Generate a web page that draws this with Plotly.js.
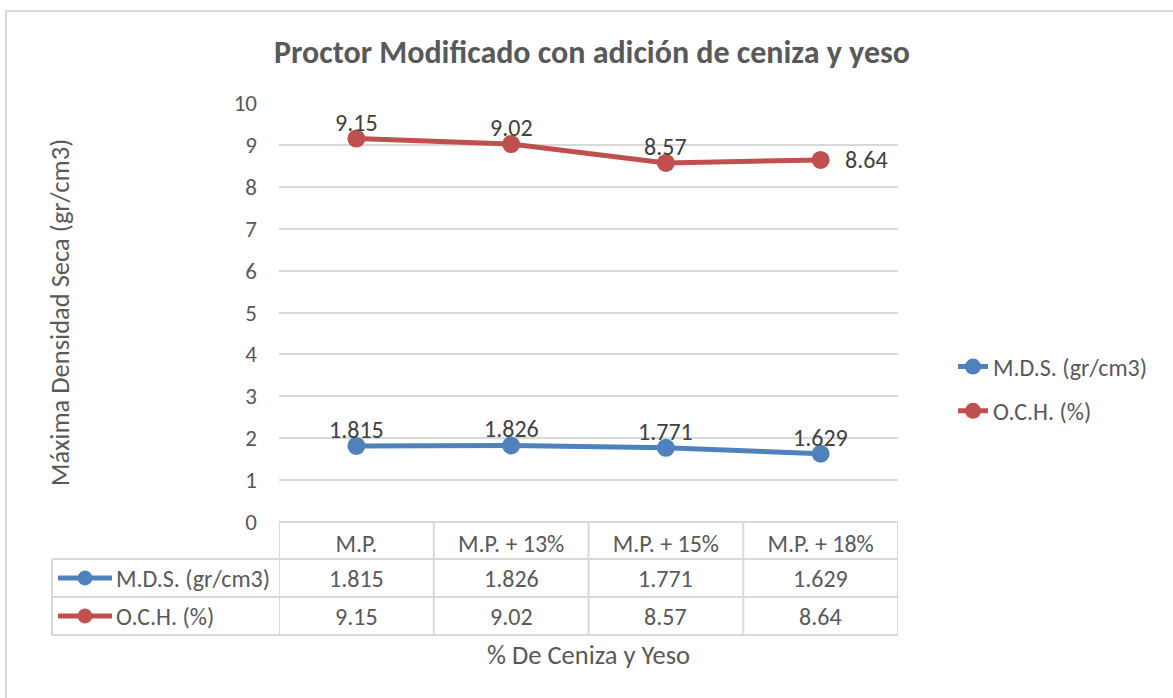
<!DOCTYPE html>
<html>
<head>
<meta charset="utf-8">
<script src="https://cdn.plot.ly/plotly-3.0.1.min.js"></script>
<style>html,body{margin:0;padding:0;background:#fff;}#chart{width:1173px;height:698px;}</style>
</head>
<body>
<div id="chart"></div>
<script>
const categories = ["M.P.", "M.P. + 13%", "M.P. + 15%", "M.P. + 18%"];
const seriesNames = ["M.D.S. (gr/cm3)", "O.C.H. (%)"];
const mdsValues = [1.815, 1.826, 1.771, 1.629];
const ochValues = [9.15, 9.02, 8.57, 8.64];
const ochLabelRight = [false, false, false, true];
const colors = ["#4f81bd", "#c0504d"];

const W = 1173, H = 698;
const L = 279, R = 898, T = 103, B = 522;
const FONT = "Carlito, Lato, 'Liberation Sans', sans-serif";
const TXT = "#595959";
const GRID = "#d9d9d9";
const FS = 24;

// pixel helpers (for table decoration only)
const py = p => (B - p) / (B - T);
const px = p => (p - L) / (R - L);

const traces = [
  {x: categories, y: mdsValues, name: seriesNames[0], type: "scatter", mode: "lines+markers",
   line: {color: colors[0], width: 5}, marker: {color: colors[0], size: 18}, legendgroup: "a", cliponaxis: false},
  {x: categories, y: ochValues, name: seriesNames[1], type: "scatter", mode: "lines+markers",
   line: {color: colors[1], width: 5}, marker: {color: colors[1], size: 18}, legendgroup: "b", cliponaxis: false}
];

const annotations = [];
// data labels
mdsValues.forEach((v, i) => annotations.push({xref: "x", yref: "y", x: categories[i], y: v,
  text: String(v), showarrow: false, xanchor: "center", yanchor: "bottom", yshift: 0,
  font: {family: FONT, size: FS, color: "#404040"}}));
ochValues.forEach((v, i) => annotations.push({xref: "x", yref: "y", x: categories[i], y: v,
  text: String(v), showarrow: false,
  xanchor: ochLabelRight[i] ? "left" : "center", yanchor: ochLabelRight[i] ? "middle" : "bottom",
  xshift: ochLabelRight[i] ? 22 : 0, yshift: 0,
  font: {family: FONT, size: FS, color: "#404040"}}));

// Table geometry
const rowY = [541, 578, 616];
const hLines = [[L, R, 522], [52, R, 559], [52, R, 597], [52, R, 635]];
const shapes = [];
shapes.push({type: "rect", xref: "paper", yref: "paper", x0: px(6), x1: px(1200), y0: py(11), y1: py(720),
  line: {color: GRID, width: 2}, layer: "below"});
hLines.forEach(h => shapes.push({type: "line", xref: "paper", yref: "paper",
  x0: px(h[0]), x1: px(h[1]), y0: py(h[2]), y1: py(h[2]), line: {color: GRID, width: 2}}));
for (let i = 0; i <= categories.length; i++) {
  shapes.push({type: "line", xref: "x", yref: "paper", x0: i - 0.5, x1: i - 0.5,
    y0: py(522), y1: py(635), line: {color: GRID, width: 2}});
}
shapes.push({type: "line", xref: "paper", yref: "paper", x0: px(52), x1: px(52),
  y0: py(559), y1: py(635), line: {color: GRID, width: 2}});

[mdsValues, ochValues].forEach((vals, s) => {
  const yy = rowY[s + 1];
  shapes.push({type: "line", xref: "paper", yref: "paper", x0: px(58), x1: px(112),
    y0: py(yy), y1: py(yy), line: {color: colors[s], width: 5}});
  shapes.push({type: "circle", xref: "paper", yref: "paper", x0: px(78), x1: px(92),
    y0: py(yy - 7), y1: py(yy + 7), fillcolor: colors[s], line: {color: colors[s], width: 1}});
  annotations.push({xref: "paper", yref: "paper", x: px(114), y: py(yy), xanchor: "left", yanchor: "middle",
    text: seriesNames[s], showarrow: false, font: {family: FONT, size: FS, color: TXT}});
  vals.forEach((v, i) => annotations.push({xref: "x", yref: "paper", x: categories[i], y: py(yy),
    xanchor: "center", yanchor: "middle", text: String(v), showarrow: false,
    font: {family: FONT, size: FS, color: TXT}}));
});

const layout = {
  width: W, height: H,
  margin: {l: L, r: W - R, t: T, b: H - B},
  paper_bgcolor: "#ffffff", plot_bgcolor: "#ffffff",
  font: {family: FONT, color: TXT, size: FS},
  title: {text: "<b>Proctor Modificado con adición de ceniza y yeso</b>",
    font: {family: FONT, size: 32, color: TXT},
    x: 592 / W, xanchor: "center", y: 1 - 52 / H, yanchor: "middle"},
  xaxis: {type: "category", range: [-0.5, 3.5], showgrid: false, zeroline: false, showline: false,
    ticks: "", ticklabelstandoff: 5, tickfont: {family: FONT, size: FS, color: TXT},
    title: {text: "% De Ceniza y Yeso", font: {family: FONT, size: 26.5, color: TXT}, standoff: 88},
    automargin: false, fixedrange: true},
  yaxis: {range: [0, 10], dtick: 1, showgrid: true, gridcolor: GRID, gridwidth: 2,
    zeroline: false, showline: false, ticks: "", ticklabelstandoff: 21,
    tickfont: {family: FONT, size: 23, color: TXT},
    title: {text: "Máxima Densidad Seca (gr/cm3)", font: {family: FONT, size: 26.5, color: TXT}, standoff: 156},
    automargin: false, fixedrange: true},
  showlegend: true,
  legend: {x: px(953), xanchor: "left", y: py(389), yanchor: "middle", tracegroupgap: 10,
    font: {family: FONT, size: FS, color: TXT}, bgcolor: "rgba(0,0,0,0)"},
  shapes: shapes,
  annotations: annotations
};

Plotly.newPlot("chart", traces, layout, {displayModeBar: false, staticPlot: true});
</script>
</body>
</html>
